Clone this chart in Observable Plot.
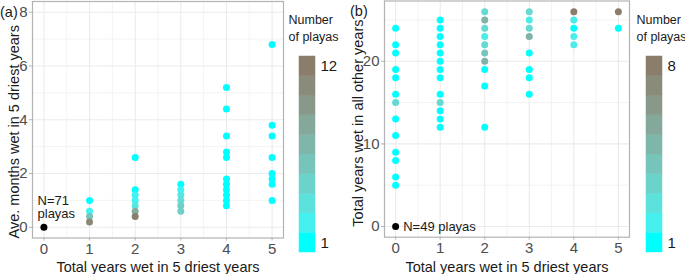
<!DOCTYPE html>
<html>
<head>
<meta charset="utf-8">
<script src="https://cdn.jsdelivr.net/npm/d3@7"></script>
<script src="https://cdn.jsdelivr.net/npm/@observablehq/plot@0.6"></script>
<style>
  html, body { margin: 0; padding: 0; background: #fff; }
  body { width: 685px; height: 274px; overflow: hidden; font-family: "Liberation Sans", Arial, sans-serif; }
  #wrap { position: relative; width: 685px; height: 274px; display: flex; flex-direction: row; }
  #wrap > div { flex: none; }
  .tag { position: absolute; font-size: 14.5px; line-height: 18px; color: #1a1a1a; font-family: "Liberation Sans", Arial, sans-serif; background: white; }
</style>
</head>
<body>
<div id="wrap">
  <div id="pa"></div><div id="la"></div><div id="pb"></div><div id="lb"></div>
  <div class="tag" style="left:0px; top:3px;">(a)</div>
  <div class="tag" style="left:350px; top:2px;">(b)</div>
</div>
<script>
// ---------- Panel (a) data ----------
const aX = [1,1,1,1, 2,2,2,2,2,2,2, 3,3,3,3,3,3, 4,4,4,4,4,4,4,4,4,4,4, 5,5,5,5,5,5,5,5];
const aY = [1.0,0.6,0.4,0.2, 2.6,1.4,1.2,1.0,0.8,0.6,0.4, 1.6,1.4,1.2,1.0,0.8,0.6,
            5.2,4.4,3.4,2.8,2.6,1.8,1.6,1.4,1.2,1.0,0.8, 6.8,3.8,3.4,2.6,2.0,1.8,1.6,1.0];
const aN = [1,2,6,11, 1,1,2,2,3,8,12, 1,2,3,4,5,5, 1,1,1,1,1,1,1,1,1,1,1, 1,1,1,1,1,1,1,1];
const aOrigin = [{x: 0, y: 0}];
const aLabel = "N=71\nplayas";
const aYTicks = [0, 2, 4, 6, 8];
const aYMinor = [1, 3, 5, 7];
const aLegendTicks = [1, 12];

// ---------- Panel (b) data ----------
const bX = [0,0,0,0,0,0,0,0,0,0,0,0,0,
            1,1,1,1,1,1,1,1,1,1,1,1,1,
            2,2,2,2,2,2,2,2,2,2,
            3,3,3,3,3,3,3,3,
            4,4,4,4,4,
            5,5];
const bY = [24,22,21,19,18,16,15,13,11,9,8,6,5,
            25,24,23,22,21,20,19,18,16,15,14,13,12,
            26,25,24,23,22,21,20,19,17,12,
            26,25,24,23,21,19,18,16,
            26,25,24,23,22,
            26,24];
const bN = [1,1,1,1,1,1,3,1,1,1,1,1,1,
            1,1,1,1,1,1,1,1,1,3,1,1,1,
            3,5,3,2,3,4,5,1,1,1,
            3,2,3,5,1,1,1,1,
            8,2,1,2,2,
            8,1];
const bOrigin = [{x: 0, y: 0}];
const bLabel = "N=49 playas";
const bYTicks = [0, 10, 20];
const bYMinor = [5, 15, 25];
const bLegendTicks = [1, 8];

// ---------- shared ----------
const xTicks = [0, 1, 2, 3, 4, 5];
const xMinor = [0.5, 1.5, 2.5, 3.5, 4.5];
const xTitle = "Total years wet in 5 driest years";
const aYTitle = "Ave. months wet in 5 driest years";
const bYTitle = "Total years wet in all other years";
const lowColor = "#00FFFF";
const highColor = "#8B7D6B";
const legendTitle = "Number\nof playas";
const nBins = 10;

const FONT = "Liberation Sans, Arial, sans-serif";
const GRID = "#EBEBEB";
const BORDER = "#B3B3B3";
const TICKTXT = "#4D4D4D";

function rows(xs, ys, ns) { return xs.map((x, i) => ({x, y: ys[i], n: ns[i]})); }

function panel({data, origin, label, labelX, labelY, yTicks, yMinor, yDomain, maxN,
               width, marginLeft, marginRight, marginTop, marginBottom, yTitle, yTitleDx, yTitleDy, xTitleDy}) {
  return Plot.plot({
    width, height: 274,
    marginLeft, marginRight, marginTop, marginBottom,
    style: {fontFamily: FONT, background: "white", overflow: "visible"},
    x: {domain: [-0.25, 5.25]},
    y: {domain: yDomain},
    color: {type: "linear", domain: [1, maxN], range: [lowColor, highColor], interpolate: "lab"},
    marks: [
      Plot.ruleX(xMinor, {x: d => d, stroke: GRID, strokeWidth: 0.6}),
      Plot.ruleY(yMinor, {y: d => d, stroke: GRID, strokeWidth: 0.6}),
      Plot.ruleX(xTicks, {x: d => d, stroke: GRID, strokeWidth: 1.1}),
      Plot.ruleY(yTicks, {y: d => d, stroke: GRID, strokeWidth: 1.1}),
      Plot.frame({stroke: BORDER, strokeWidth: 1.2}),
      Plot.axisX({ticks: xTicks, tickSize: 3, tickPadding: 2, stroke: BORDER, fill: TICKTXT, fontSize: 15, label: null, tickFormat: d => String(d)}),
      Plot.axisY({ticks: yTicks, tickSize: 3, tickPadding: 2, stroke: BORDER, fill: TICKTXT, fontSize: 15, label: null, tickFormat: d => String(d)}),
      Plot.dot(data, {x: "x", y: "y", r: 3.5, fill: "n", stroke: null, sort: "n"}),
      Plot.dot(origin, {x: "x", y: "y", r: 3.5, fill: "black"}),
      Plot.text([label], {x: labelX, y: labelY, text: d => d, textAnchor: "start", fontSize: 13, fill: "#1a1a1a", lineHeight: 1.05}),
      Plot.text([xTitle], {frameAnchor: "bottom", text: d => d, dy: xTitleDy, lineAnchor: "middle", textAnchor: "middle", fontSize: 14.5, fill: "#1a1a1a"}),
      Plot.text([yTitle], {frameAnchor: "left", text: d => d, rotate: -90, dx: yTitleDx, dy: yTitleDy, lineAnchor: "middle", textAnchor: "middle", fontSize: 14.5, fill: "#1a1a1a"})
    ]
  });
}

function legend({maxN, ticks, width, dx}) {
  const step = (maxN - 1) / (nBins - 1);
  const bins = d3.range(nBins).map(i => 1 + i * step);
  return Plot.plot({
    width, height: 274,
    marginLeft: 14, marginRight: width - 30, marginTop: 56, marginBottom: 22,
    style: {fontFamily: FONT, background: "white", overflow: "visible"},
    x: {domain: [0, 1], axis: null},
    y: {domain: [1 - step / 2, maxN + step / 2]},
    color: {type: "linear", domain: [1, maxN], range: [lowColor, highColor], interpolate: "lab"},
    marks: [
      Plot.rect(bins, {x1: 0, x2: 1, y1: d => d - step / 2, y2: d => d + step / 2, fill: d => d, stroke: d => d, strokeWidth: 0.5}),
      Plot.axisY({anchor: "right", ticks, tickSize: 0, tickPadding: 5, fontSize: 15, fill: "#1a1a1a", label: null, tickFormat: d => String(d)}),
      Plot.text([legendTitle], {frameAnchor: "top-left", text: d => d, dx: dx - 14, dy: -45, textAnchor: "start", lineAnchor: "top", fontSize: 12.5, fill: "#1a1a1a", lineHeight: 1.4})
    ]
  });
}

document.getElementById("pa").append(panel({
  data: rows(aX, aY, aN), origin: aOrigin, label: aLabel, labelX: -0.14, labelY: 0.75,
  yTicks: aYTicks, yMinor: aYMinor, yDomain: [-0.4, 8.4], maxN: 12,
  width: 285, marginLeft: 32, marginRight: 2, marginTop: 1, marginBottom: 36.5,
  yTitle: aYTitle, yTitleDx: -18, yTitleDy: 12, xTitleDy: 29
}));
document.getElementById("la").append(legend({maxN: 12, ticks: aLegendTicks, width: 55, dx: 3}));
document.getElementById("pb").append(panel({
  data: rows(bX, bY, bN), origin: bOrigin, label: bLabel, labelX: 0.17, labelY: 0,
  yTicks: bYTicks, yMinor: bYMinor, yDomain: [-1.3, 27.3], maxN: 8,
  width: 292, marginLeft: 44, marginRight: 3, marginTop: 0.5, marginBottom: 37.3,
  yTitle: bYTitle, yTitleDx: -26, yTitleDy: 4, xTitleDy: 30
}));
document.getElementById("lb").append(legend({maxN: 8, ticks: bLegendTicks, width: 53, dx: 4}));
</script>
</body>
</html>
